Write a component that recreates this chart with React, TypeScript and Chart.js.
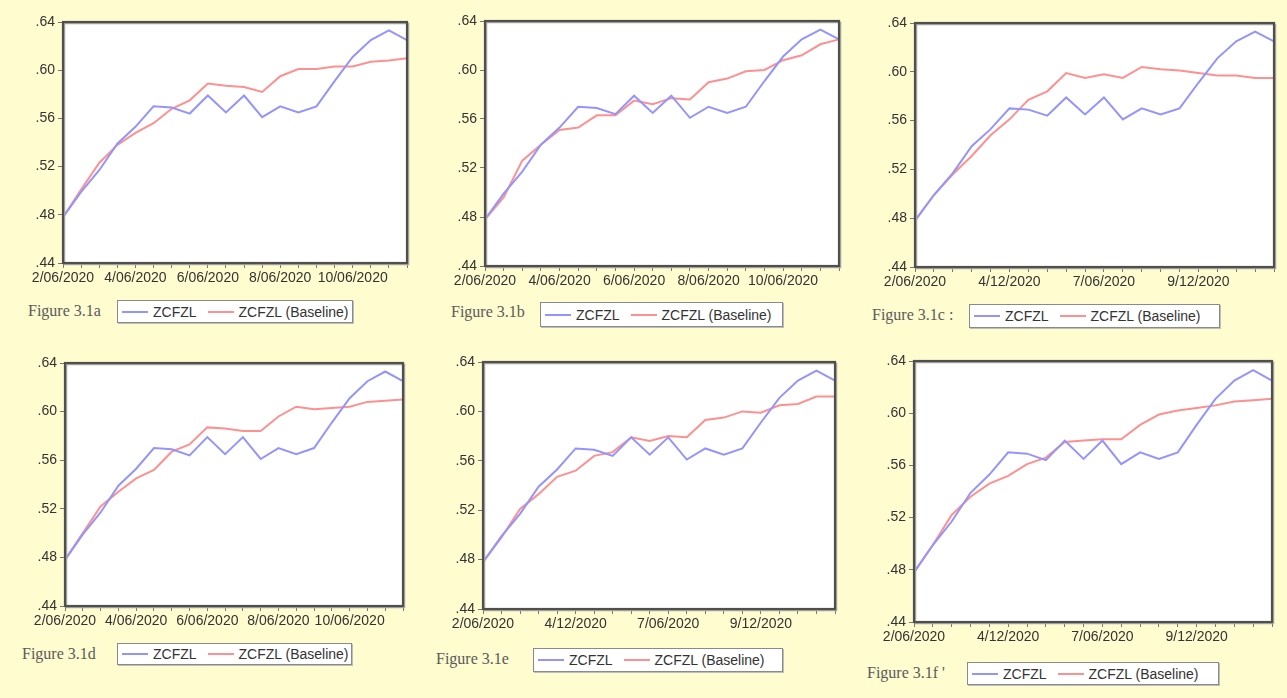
import React, { useEffect, useRef } from "react";
import { Chart, registerables } from "chart.js";

Chart.register(...registerables);

// ---------- data ----------
const LABELS_EVEN = [
  "2/06/2020", "", "", "", "4/06/2020", "", "", "", "6/06/2020", "", "", "",
  "8/06/2020", "", "", "", "10/06/2020", "", "", "",
];
const LABELS_FIVE = [
  "2/06/2020", "", "", "", "", "4/12/2020", "", "", "", "", "7/06/2020", "", "", "", "",
  "9/12/2020", "", "", "", "",
];

const SERIES_NAME = "ZCFZL";
const BASELINE_NAME = "ZCFZL (Baseline)";

const ACTUAL = [
  0.478, 0.499, 0.517, 0.539, 0.553, 0.570, 0.569, 0.564, 0.579, 0.565,
  0.579, 0.561, 0.570, 0.565, 0.570, 0.591, 0.611, 0.625, 0.633, 0.625,
];

const BASE_A = [
  0.478, 0.501, 0.523, 0.538, 0.548, 0.556, 0.568, 0.575, 0.589, 0.587,
  0.586, 0.582, 0.595, 0.601, 0.601, 0.603, 0.603, 0.607, 0.608, 0.610,
];
const BASE_B = [
  0.478, 0.496, 0.526, 0.539, 0.551, 0.553, 0.563, 0.563, 0.575, 0.572,
  0.577, 0.576, 0.590, 0.593, 0.599, 0.600, 0.608, 0.612, 0.621, 0.625,
];
const BASE_C = [
  0.478, 0.499, 0.516, 0.531, 0.548, 0.561, 0.577, 0.584, 0.599, 0.595,
  0.598, 0.595, 0.604, 0.602, 0.601, 0.599, 0.597, 0.597, 0.595, 0.595,
];
const BASE_D = [
  0.478, 0.500, 0.522, 0.534, 0.545, 0.552, 0.567, 0.573, 0.587, 0.586,
  0.584, 0.584, 0.596, 0.604, 0.602, 0.603, 0.604, 0.608, 0.609, 0.610,
];
const BASE_E = [
  0.478, 0.498, 0.521, 0.533, 0.547, 0.552, 0.564, 0.567, 0.579, 0.576,
  0.580, 0.579, 0.593, 0.595, 0.600, 0.599, 0.605, 0.606, 0.612, 0.612,
];
const BASE_F = [
  0.478, 0.499, 0.522, 0.536, 0.546, 0.552, 0.561, 0.566, 0.578, 0.579,
  0.580, 0.580, 0.591, 0.599, 0.602, 0.604, 0.606, 0.609, 0.610, 0.611,
];

const Y_MIN = 0.44;
const Y_MAX = 0.64;
const Y_STEP = 0.04;

// ---------- layout / style ----------
const BG = "#FFFCD0";
const BLUE = "#9494ff";
const RED = "#ff9090";
const TEXT = "#333333";
const FRAME = "#4f4f4f";
const AX_W = 45;
const AX_H = 30;
const PAD_T = 12;
const PAD_R = 12;

type Panel = {
  caption: string;
  labels: string[];
  baseline: number[];
  L: number; T: number; R: number; B: number;
  lg: { x1: number; x2: number; y1: number; y2: number };
  cap: { x: number; y: number };
};

const PANELS: Panel[] = [
  { caption: "Figure 3.1a", labels: LABELS_EVEN, baseline: BASE_A, L: 63, T: 22, R: 407, B: 263,
    lg: { x1: 117, x2: 353, y1: 300, y2: 323 }, cap: { x: 28, y: 312 } },
  { caption: "Figure 3.1b", labels: LABELS_EVEN, baseline: BASE_B, L: 485, T: 21, R: 839, B: 266,
    lg: { x1: 540, x2: 783, y1: 302, y2: 327 }, cap: { x: 451, y: 313 } },
  { caption: "Figure 3.1c :", labels: LABELS_FIVE, baseline: BASE_C, L: 915, T: 23, R: 1274, B: 267,
    lg: { x1: 969, x2: 1220, y1: 304, y2: 328 }, cap: { x: 872, y: 316 } },
  { caption: "Figure 3.1d", labels: LABELS_EVEN, baseline: BASE_D, L: 65, T: 363, R: 403, B: 606,
    lg: { x1: 117, x2: 352, y1: 643, y2: 665 }, cap: { x: 22, y: 655 } },
  { caption: "Figure 3.1e", labels: LABELS_FIVE, baseline: BASE_E, L: 483, T: 362, R: 835, B: 609,
    lg: { x1: 533, x2: 783, y1: 648, y2: 672 }, cap: { x: 436, y: 660 } },
  { caption: "Figure 3.1f '", labels: LABELS_FIVE, baseline: BASE_F, L: 914, T: 361, R: 1272, B: 622,
    lg: { x1: 967, x2: 1219, y1: 662, y2: 685 }, cap: { x: 867, y: 674 } },
];

const framePlugin = {
  id: "eviewsFrame",
  beforeDraw(chart: any) {
    const { ctx, chartArea: a } = chart;
    ctx.save();
    ctx.fillStyle = "#ffffff";
    ctx.fillRect(a.left, a.top, a.right - a.left, a.bottom - a.top);
    ctx.restore();
  },
  afterDraw(chart: any) {
    const { ctx, chartArea: a } = chart;
    ctx.save();
    ctx.strokeStyle = "#a8a8a0";
    ctx.lineWidth = 1.5;
    ctx.strokeRect(a.left + 1.5, a.top + 1.5, a.right - a.left, a.bottom - a.top);
    ctx.strokeStyle = FRAME;
    ctx.lineWidth = 2.2;
    ctx.strokeRect(a.left, a.top, a.right - a.left, a.bottom - a.top);
    ctx.restore();
  },
};

function PanelChart({ p }: { p: Panel }) {
  const ref = useRef<HTMLCanvasElement | null>(null);
  const W = p.R - p.L + AX_W + PAD_R;
  const H = p.B - p.T + PAD_T + AX_H;

  useEffect(() => {
    if (!ref.current) return;
    const font = { family: "'Liberation Sans', Arial, sans-serif", size: 14 };
    const chart = new Chart(ref.current, {
      type: "line",
      data: {
        labels: p.labels,
        datasets: [
          { label: SERIES_NAME, data: ACTUAL, borderColor: BLUE, borderWidth: 2, pointRadius: 0, tension: 0, fill: false },
          { label: BASELINE_NAME, data: p.baseline, borderColor: RED, borderWidth: 2, pointRadius: 0, tension: 0, fill: false },
        ],
      },
      options: {
        animation: false,
        responsive: false,
        maintainAspectRatio: false,
        events: [],
        layout: { padding: { left: 0, top: PAD_T, right: PAD_R, bottom: 0 } },
        plugins: { legend: { display: false }, tooltip: { enabled: false }, title: { display: false } },
        scales: {
          x: {
            type: "category",
            offset: false,
            border: { display: false },
            grid: { drawOnChartArea: false, drawTicks: true, tickLength: 5, color: "#777", lineWidth: 1 },
            ticks: { autoSkip: false, maxRotation: 0, minRotation: 0, padding: 2, color: TEXT, font },
            afterFit: (s: any) => { s.height = AX_H; },
          },
          y: {
            type: "linear",
            min: Y_MIN,
            max: Y_MAX,
            border: { display: false },
            grid: { drawOnChartArea: false, drawTicks: true, tickLength: 5, color: "#777", lineWidth: 1 },
            ticks: {
              stepSize: Y_STEP,
              padding: 3,
              color: TEXT,
              font,
              callback: (v: any) => Number(v).toFixed(2).replace(/^0/, ""),
            },
            afterFit: (s: any) => { s.width = AX_W; },
          },
        },
      },
      plugins: [framePlugin],
    } as any);
    return () => chart.destroy();
  }, []);

  return (
    <>
      <canvas
        ref={ref}
        width={W}
        height={H}
        style={{ position: "absolute", left: p.L - AX_W, top: p.T - PAD_T, width: W, height: H }}
      />
      <div
        style={{
          position: "absolute",
          left: p.cap.x,
          top: p.cap.y - 10,
          height: 20,
          lineHeight: "20px",
          font: "16px 'Liberation Serif', 'Times New Roman', serif",
          color: "#5a5a5a",
          whiteSpace: "nowrap",
        }}
      >
        {p.caption}
      </div>
      <div
        style={{
          position: "absolute",
          left: p.lg.x1,
          top: p.lg.y1,
          width: p.lg.x2 - p.lg.x1,
          height: p.lg.y2 - p.lg.y1,
          boxSizing: "border-box",
          background: "#ffffff",
          border: "1.5px solid #8a8a8a",
          boxShadow: "1px 1px 0 #bdbdbd",
          display: "flex",
          alignItems: "center",
          paddingLeft: 4,
          font: "14px 'Liberation Sans', Arial, sans-serif",
          color: TEXT,
          whiteSpace: "nowrap",
        }}
      >
        <span style={{ display: "inline-block", width: 26, height: 0, borderTop: `2.5px solid ${BLUE}`, marginRight: 5 }} />
        <span>{SERIES_NAME}</span>
        <span style={{ display: "inline-block", width: 26, height: 0, borderTop: `2.5px solid ${RED}`, marginLeft: 11, marginRight: 5 }} />
        <span>{BASELINE_NAME}</span>
      </div>
    </>
  );
}

export default function App() {
  useEffect(() => {
    document.body.style.margin = "0";
  }, []);
  return (
    <div style={{ position: "absolute", left: 0, top: 0, width: 1287, height: 698, background: BG, overflow: "hidden" }}>
      {PANELS.map((p) => (
        <PanelChart key={p.caption} p={p} />
      ))}
    </div>
  );
}
